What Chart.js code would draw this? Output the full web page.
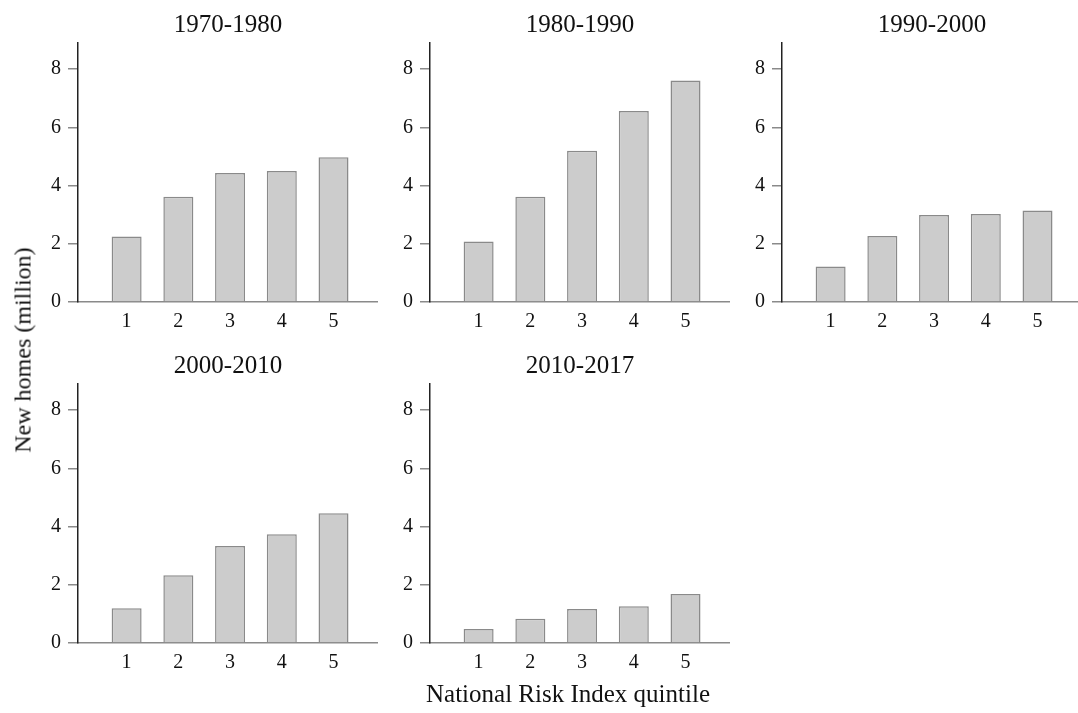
<!DOCTYPE html>
<html>
<head>
<meta charset="utf-8">
<script src="https://cdn.jsdelivr.net/npm/chart.js@4.4.0/dist/chart.umd.min.js"></script>
<style>
  body { margin: 0; background: #fff; width: 1078px; height: 713px; position: relative; overflow: hidden; font-family: 'Liberation Serif', serif; }
  canvas { position: absolute; }
  .lbl { position: absolute; font-size: 25px; color: #111; white-space: nowrap; transform: translate(-50%, -50%); }
</style>
</head>
<body>
<canvas id="p1" width="358" height="340" style="left:20px;top:0px"></canvas>
<canvas id="p2" width="358" height="340" style="left:372px;top:0px"></canvas>
<canvas id="p3" width="358" height="340" style="left:724px;top:0px"></canvas>
<canvas id="p4" width="358" height="340" style="left:20px;top:341px"></canvas>
<canvas id="p5" width="358" height="340" style="left:372px;top:341px"></canvas>
<div class="lbl" style="left:23px;top:350px;font-size:24px;transform:translate(-50%,-50%) rotate(-90deg)">New homes (million)</div>
<div class="lbl" style="left:568px;top:694px">National Risk Index quintile</div>
<script>
var quintiles = [1, 2, 3, 4, 5];
var yTicks = [0, 2, 4, 6, 8];
var periods = ["1970-1980", "1980-1990", "1990-2000", "2000-2010", "2010-2017"];

var homes1970 = [2.25, 3.62, 4.43, 4.50, 4.97];
var homes1980 = [2.08, 3.62, 5.20, 6.56, 7.61];
var homes1990 = [1.22, 2.27, 2.99, 3.02, 3.14];
var homes2000 = [1.19, 2.33, 3.33, 3.74, 4.46];
var homes2010 = [0.48, 0.83, 1.17, 1.26, 1.68];

var allHomes = [homes1970, homes1980, homes1990, homes2000, homes2010];

Chart.defaults.font.family = "'Liberation Serif', serif";
Chart.defaults.color = "#111";

// keep the panel title centred over the plot area, not the whole canvas
var titleOverPlot = {
    id: 'titleOverPlot',
    afterLayout: function (chart) {
        var t = chart.titleBlock;
        if (t) {
            t.left = chart.chartArea.left;
            t.right = chart.chartArea.right;
            t.width = t.right - t.left;
        }
    }
};

function drawPanel(id, title, values) {
    var ctx = document.getElementById(id).getContext("2d");
    return new Chart(ctx, {
        type: 'bar',
        data: {
            datasets: [{
                data: values.map(function (v, i) { return { x: quintiles[i], y: v }; }),
                backgroundColor: "#cccccc",
                borderColor: "#8a8a8a",
                borderWidth: 1.5,
                barPercentage: 0.58,
                categoryPercentage: 1
            }]
        },
        options: {
            responsive: false,
            animation: false,
            layout: { padding: 0 },
            plugins: {
                legend: { display: false },
                tooltip: { enabled: false },
                title: {
                    display: true,
                    text: title,
                    color: "#111",
                    font: { size: 25, weight: 'normal' },
                    padding: { top: 10, bottom: 3 }
                }
            },
            scales: {
                x: {
                    type: 'linear',
                    offset: false,
                    min: 0.06,
                    max: 5.86,
                    grid: { display: false, drawTicks: false, offset: false },
                    border: { display: true, color: "#8a8a8a", width: 1.5 },
                    ticks: { padding: 8, font: { size: 20 }, color: "#111" },
                    afterBuildTicks: function (axis) {
                        axis.ticks = quintiles.map(function (v) { return { value: v }; });
                    },
                    afterFit: function (axis) { axis.height = 38; }
                },
                y: {
                    min: 0,
                    max: 8.9,
                    grid: { display: true, drawOnChartArea: false, drawTicks: true, tickLength: 10, color: "#8a8a8a", lineWidth: 1.5 },
                    border: { display: true, color: "#222", width: 1.5 },
                    ticks: { padding: 7, font: { size: 20 }, color: "#111" },
                    afterBuildTicks: function (axis) {
                        axis.ticks = yTicks.map(function (v) { return { value: v }; });
                    },
                    afterFit: function (axis) { axis.width = 58; }
                }
            }
        },
        plugins: [titleOverPlot]
    });
}

for (var i = 0; i < periods.length; i++) {
    drawPanel("p" + (i + 1), periods[i], allHomes[i]);
}
</script>
</body>
</html>
